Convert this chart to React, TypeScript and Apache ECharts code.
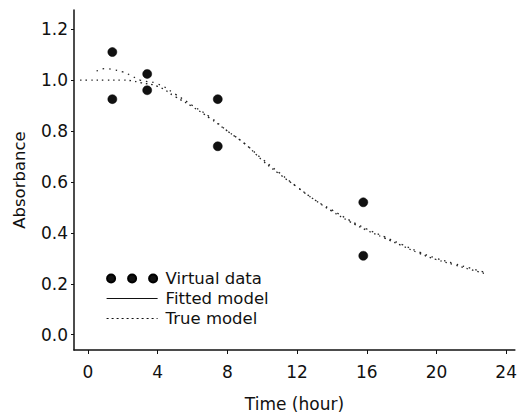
import React, { useEffect, useRef } from "react";
import * as echarts from "echarts";

const dataTimes = [1.4, 1.4, 3.4, 3.4, 7.45, 7.45, 15.8, 15.8];
const dataValues = [1.11, 0.925, 1.024, 0.96, 0.925, 0.74, 0.52, 0.31];

const fittedTimes = [0.5, 1.0, 1.5, 2.0, 2.4, 3.0, 4.0, 5.0, 6.0, 7.0, 8.0, 9.0, 10.0, 11.0, 12.0, 13.0, 14.0, 15.0, 16.0, 17.0, 18.0, 19.0, 20.0, 21.0, 22.0, 22.8];
const fittedValues = [1.035, 1.045, 1.04, 1.032, 1.02, 1.0, 0.985, 0.945, 0.9, 0.855, 0.8, 0.75, 0.69, 0.635, 0.58, 0.53, 0.49, 0.45, 0.415, 0.385, 0.355, 0.325, 0.3, 0.28, 0.26, 0.245];

const trueTimes = [-0.45, 0.0, 1.0, 2.0, 2.5, 3.0, 4.0, 5.0, 6.0, 7.0, 8.0, 9.0, 10.0, 11.0, 12.0, 13.0, 14.0, 15.0, 16.0, 17.0, 18.0, 19.0, 20.0, 21.0, 22.0, 22.8];
const trueValues = [1.0, 1.0, 1.0, 1.0, 0.997, 0.99, 0.975, 0.935, 0.895, 0.85, 0.8, 0.75, 0.685, 0.63, 0.58, 0.53, 0.485, 0.445, 0.41, 0.38, 0.35, 0.32, 0.295, 0.275, 0.255, 0.24];

const xTicks = [0, 4, 8, 12, 16, 20, 24];
const yTicks = [0, 0.2, 0.4, 0.6, 0.8, 1.0, 1.2];

const FONT = "'DejaVu Sans', 'Liberation Sans', Arial, sans-serif";
const threeDots =
  "path://M0,4a4,4 0 1,0 8,0a4,4 0 1,0 -8,0M21,4a4,4 0 1,0 8,0a4,4 0 1,0 -8,0M42,4a4,4 0 1,0 8,0a4,4 0 1,0 -8,0";

export default function App() {
  const ref = useRef<HTMLDivElement>(null);
  useEffect(() => {
    if (!ref.current) return;
    const chart = echarts.init(ref.current, null, { renderer: "svg" });
    const pairs = (xs: number[], ys: number[]) => xs.map((x, i) => [x, ys[i]]);
    chart.setOption({
      animation: false,
      backgroundColor: "#fff",
      textStyle: { fontFamily: FONT },
      grid: { left: 74, right: 2, top: 10, bottom: 68 },
      xAxis: {
        type: "value",
        min: -0.8,
        max: 24.5,
        name: "Time (hour)",
        nameLocation: "middle",
        nameGap: 45,
        nameTextStyle: { fontSize: 17, color: "#111", fontFamily: FONT },
        axisLine: { show: true, onZero: false, lineStyle: { color: "#111", width: 1.5 } },
        axisTick: { show: true, length: 4, customValues: xTicks, lineStyle: { color: "#111" } },
        axisLabel: { customValues: xTicks, fontSize: 17, color: "#111", margin: 13, fontFamily: FONT },
        splitLine: { show: false },
      },
      yAxis: {
        type: "value",
        min: -0.06,
        max: 1.275,
        name: "Absorbance",
        nameLocation: "middle",
        nameGap: 46,
        nameTextStyle: { fontSize: 16.5, color: "#111", fontFamily: FONT },
        axisLine: { show: true, onZero: false, lineStyle: { color: "#111", width: 1.5 } },
        axisTick: { show: true, length: 3, customValues: yTicks, lineStyle: { color: "#111" } },
        axisLabel: {
          customValues: yTicks,
          fontSize: 17,
          color: "#111",
          margin: 6,
          fontFamily: FONT,
          formatter: (v: number) => v.toFixed(1),
        },
        splitLine: { show: false },
      },
      legend: {
        orient: "vertical",
        left: 101,
        top: 265,
        itemWidth: 51,
        itemHeight: 8,
        itemGap: 3,
        textStyle: { fontSize: 16.5, color: "#111", fontFamily: FONT, padding: [0, 0, 0, 3] },
        data: [
          { name: "Virtual data", icon: threeDots, itemStyle: { color: "#111", opacity: 1 } },
          {
            name: "Fitted model",
            itemStyle: { opacity: 0 },
            lineStyle: { type: "solid", width: 1.2, color: "#111" },
          },
          {
            name: "True model",
            itemStyle: { opacity: 0 },
            lineStyle: { type: [2, 3], width: 1.2, color: "#111" },
          },
        ],
      },
      series: [
        {
          name: "True model",
          type: "line",
          data: pairs(trueTimes, trueValues),
          showSymbol: false,
          symbol: "none",
          smooth: true,
          itemStyle: { color: "#222" },
          lineStyle: { color: "#222", width: 1.3, type: [1.5, 4] },
        },
        {
          name: "Fitted model",
          type: "line",
          data: pairs(fittedTimes, fittedValues),
          showSymbol: false,
          symbol: "none",
          smooth: true,
          itemStyle: { color: "#222" },
          lineStyle: { color: "#222", width: 1.3, type: [1.5, 5] },
        },
        {
          name: "Virtual data",
          type: "scatter",
          data: pairs(dataTimes, dataValues),
          symbol: "circle",
          symbolSize: 9,
          itemStyle: { color: "#111", borderColor: "#000", borderWidth: 0.5, opacity: 1 },
        },
      ],
    });
    return () => chart.dispose();
  }, []);
  return (
    <div
      ref={ref}
      style={{ position: "absolute", left: 0, top: 0, width: 520, height: 418 }}
    />
  );
}
